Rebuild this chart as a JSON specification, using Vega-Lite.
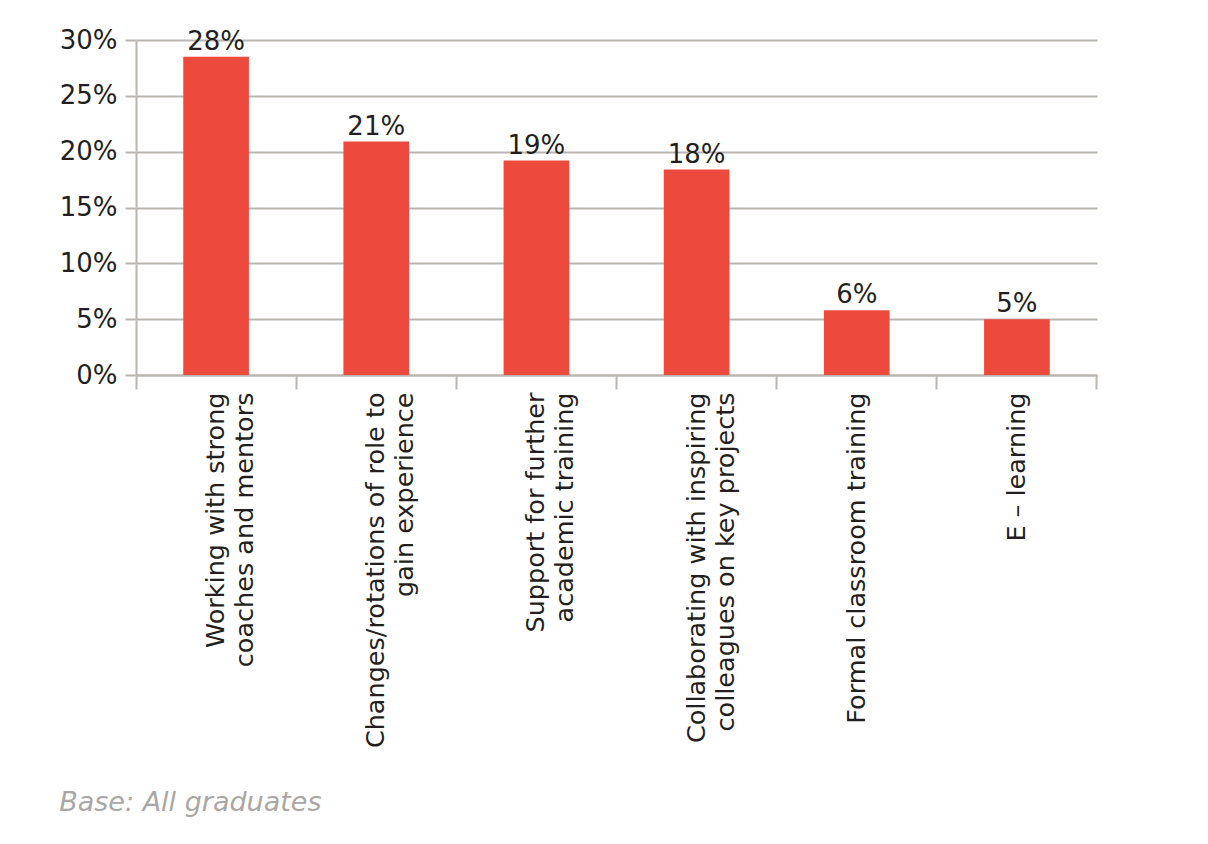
{
  "$schema": "https://vega.github.io/schema/vega-lite/v6.json",
  "autosize": {"type": "none"},
  "padding": {"left": 136, "top": 40, "right": 111, "bottom": 469},
  "width": 961,
  "height": 335,
  "background": "white",
  "title": {
    "text": "Base: All graduates",
    "orient": "bottom",
    "anchor": "start",
    "frame": "bounds",
    "font": "DejaVu Sans",
    "fontSize": 27,
    "fontStyle": "italic",
    "fontWeight": "normal",
    "color": "#a9a7a5",
    "offset": 42
  },
  "data": {
    "values": [
      {"skill": "Working with strong\ncoaches and mentors", "share": 28.5, "label": "28%"},
      {"skill": "Changes/rotations of role to\ngain experience", "share": 20.9, "label": "21%"},
      {"skill": "Support for further\nacademic training", "share": 19.2, "label": "19%"},
      {"skill": "Collaborating with inspiring\ncolleagues on key projects", "share": 18.4, "label": "18%"},
      {"skill": "Formal classroom training", "share": 5.8, "label": "6%"},
      {"skill": "E – learning", "share": 5.0, "label": "5%"}
    ]
  },
  "encoding": {
    "x": {
      "field": "skill",
      "type": "nominal",
      "sort": null,
      "scale": {"paddingInner": 0, "paddingOuter": 0},
      "axis": {
        "title": null,
        "labelAngle": -90,
        "labelAlign": "right",
        "labelBaseline": "middle",
        "labelExpr": "split(datum.label, '\\n')",
        "labelFont": "DejaVu Sans",
        "labelFontSize": 25.5,
        "labelColor": "#231f20",
        "labelLineHeight": 29,
        "labelLimit": 500,
        "labelPadding": 3,
        "bandPosition": 1,
        "tickExtra": true,
        "tickSize": 14,
        "tickWidth": 2,
        "tickColor": "#b9b5b1",
        "domainColor": "#b9b5b1",
        "domainWidth": 2,
        "grid": false
      }
    },
    "y": {
      "field": "share",
      "type": "quantitative",
      "scale": {"domain": [0, 30], "nice": false},
      "axis": {
        "title": null,
        "values": [0, 5, 10, 15, 20, 25, 30],
        "labelExpr": "datum.value + '%'",
        "labelFont": "DejaVu Sans",
        "labelFontSize": 26,
        "labelColor": "#231f20",
        "labelPadding": 8,
        "tickSize": 11,
        "tickWidth": 2,
        "tickColor": "#b9b5b1",
        "domainColor": "#b9b5b1",
        "domainWidth": 2,
        "grid": true,
        "gridColor": "#b9b5b1",
        "gridWidth": 2
      }
    }
  },
  "layer": [
    {
      "mark": {"type": "bar", "color": "#ec4a3c", "width": {"band": 0.41}}
    },
    {
      "mark": {
        "type": "text",
        "font": "DejaVu Sans",
        "fontSize": 26,
        "color": "#231f20",
        "baseline": "alphabetic",
        "dy": -7
      },
      "encoding": {"text": {"field": "label"}}
    }
  ],
  "config": {"view": {"stroke": null}}
}
